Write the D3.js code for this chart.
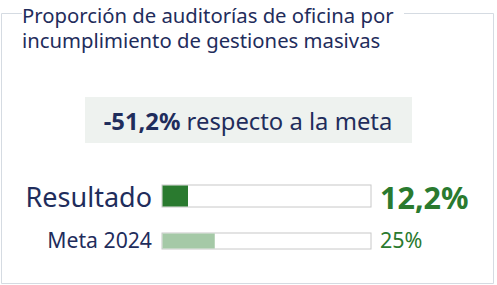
<!DOCTYPE html>
<html>
<head>
<meta charset="utf-8">
<script src="https://cdn.jsdelivr.net/npm/d3@7"></script>
<style>
  html, body { margin: 0; padding: 0; background: #fff; }
  svg { display: block; font-family: "Noto Sans", "Open Sans", sans-serif; }
</style>
</head>
<body>
<svg id="chart" width="497" height="285"></svg>
<script>
// values read from the card
const titleLines = ['Proporción de auditorías de oficina por', 'incumplimiento de gestiones masivas'];
const labels = ['Resultado', 'Meta 2024'];
const values = [12.2, 25];
const deltaVsMeta = -51.2;

const navy = '#1f2d5c';
const green = '#2a7a2f';
const lightGreen = '#a5c9a7';

const svg = d3.select('#chart');
// comma decimals, plain hyphen for the sign
const fmt = function(v) {
  return d3.format('.1f')(v).replace('.', ',').replace('\u2212', '-');
};

// frame with gap for the title
svg.append('path')
  .attr('d', 'M 22 13.5 H 1.5 V 283.5 H 493.5 V 13.5 H 404')
  .attr('fill', 'none')
  .attr('stroke', '#d5dbe2')
  .attr('stroke-width', 1);

// title, one text element with a tspan per line
svg.append('text')
  .attr('font-size', 20.3)
  .attr('fill', navy)
  .selectAll('tspan')
  .data(titleLines)
  .enter()
  .append('tspan')
  .attr('x', 22)
  .attr('y', function(d, i) { return 22.5 + i * 25; })
  .text(function(d) { return d; });

// delta box
svg.append('rect')
  .attr('x', 85).attr('y', 97)
  .attr('width', 327).attr('height', 46)
  .attr('fill', '#eef2ef');

const delta = svg.append('text')
  .attr('x', 248)
  .attr('y', 130)
  .attr('text-anchor', 'middle')
  .attr('font-size', 23.8)
  .attr('fill', navy);
delta.append('tspan').attr('font-weight', 'bold').text(fmt(deltaVsMeta) + '%');
delta.append('tspan').text(' respecto a la meta');

// bars
const x = d3.scaleLinear().domain([0, 100]).range([162, 371]);
const rows = [
  { y: 185, h: 22, fill: green, labelSize: 27, valueSize: 30.5, bold: true, base: 207, vbase: 209 },
  { y: 233, h: 16, fill: lightGreen, labelSize: 21.2, valueSize: 21.5, bold: false, base: 248, vbase: 248 }
];

labels.forEach(function(label, i) {
  const r = rows[i];
  svg.append('rect')
    .attr('x', x(0)).attr('y', r.y)
    .attr('width', x(100) - x(0)).attr('height', r.h)
    .attr('fill', '#fff')
    .attr('stroke', '#c8c8c8');
  svg.append('rect')
    .attr('x', x(0) + 0.5).attr('y', r.y + 0.5)
    .attr('width', x(values[i]) - x(0)).attr('height', r.h - 1)
    .attr('fill', r.fill);
  svg.append('text')
    .attr('x', 152).attr('y', r.base)
    .attr('text-anchor', 'end')
    .attr('font-size', r.labelSize)
    .attr('fill', navy)
    .text(label);
  svg.append('text')
    .attr('x', 380).attr('y', r.vbase)
    .attr('font-size', r.valueSize)
    .attr('font-weight', r.bold ? 'bold' : 'normal')
    .attr('fill', green)
    .text(values[i] % 1 ? fmt(values[i]) + '%' : values[i] + '%');
});
</script>
</body>
</html>
